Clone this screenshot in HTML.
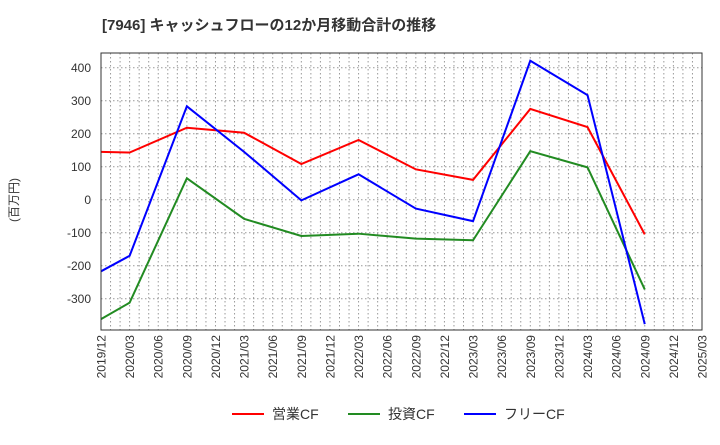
<!DOCTYPE html>
<html><head><meta charset="utf-8"><style>
body{margin:0;background:#fff;width:720px;height:440px;overflow:hidden;font-family:"Liberation Sans","Noto Sans CJK JP",sans-serif}
</style></head><body>
<svg id="chart" width="720" height="440" xmlns="http://www.w3.org/2000/svg" font-family="Liberation Sans, Noto Sans CJK JP, sans-serif">
<text x="102" y="30" font-size="15" font-weight="bold" fill="#333">[7946]  キャッシュフローの12か月移動合計の推移</text>
<text transform="translate(18,200) rotate(-90)" font-size="12" fill="#333" text-anchor="middle">(百万円)</text>
<g id="grid"></g><g id="axes"></g><g id="series"></g>
<rect x="101" y="53" width="601" height="277" fill="none" stroke="#333" stroke-width="1"/>
<g font-size="14" fill="#333">
<line x1="232" y1="414" x2="264" y2="414" stroke="#ff0000" stroke-width="2"/><text x="272" y="419">営業CF</text>
<line x1="348" y1="414" x2="380" y2="414" stroke="#228b22" stroke-width="2"/><text x="388" y="419">投資CF</text>
<line x1="464" y1="414" x2="496" y2="414" stroke="#0000ff" stroke-width="2"/><text x="504" y="419">フリーCF</text>
</g>
</svg>
<script>
const quarters=["2019/12","2020/03","2020/06","2020/09","2020/12","2021/03","2021/06","2021/09","2021/12","2022/03","2022/06","2022/09","2022/12","2023/03","2023/06","2023/09","2023/12","2024/03","2024/06","2024/09","2024/12","2025/03"];
const yTicks=[-300,-200,-100,0,100,200,300,400];
const pointQuarters=["2019/12","2020/03","2020/09","2021/03","2021/09","2022/03","2022/09","2023/03","2023/09","2024/03","2024/09"];
const operatingCF=[145,143,218,203,108,181,92,60,275,220,-105];
const investingCF=[-362,-312,65,-58,-110,-103,-118,-123,147,98,-272];
const freeCF=[-217,-170,283,145,-2,77,-27,-65,421,317,-377];
const NS="http://www.w3.org/2000/svg";
const L=101,R=702,T=53,B=330;
const x=q=>L+(R-L)*quarters.indexOf(q)/(quarters.length-1);
const xm=m=>L+(R-L)*m/((quarters.length-1)*3);
const y=v=>199.7-v*0.33;
function mk(tag,attrs,parent){const e=document.createElementNS(NS,tag);for(const k in attrs)e.setAttribute(k,attrs[k]);parent.appendChild(e);return e;}
const grid=document.getElementById('grid'),axes=document.getElementById('axes'),series=document.getElementById('series');
for(let m=1;m<(quarters.length-1)*3;m++){
 const l=mk('line',{x1:xm(m),x2:xm(m),y1:T,y2:B,stroke:'#999','stroke-dasharray':'1.5,2.5','stroke-width':1},grid);
 
 
}
yTicks.forEach(v=>{
 const l=mk('line',{x1:L,x2:R,y1:y(v),y2:y(v),stroke:'#999','stroke-dasharray':'1.5,2.5','stroke-width':1},grid);
 
 
 const t=mk('text',{x:L-10,y:y(v)+4.5,'font-size':12,fill:'#333','text-anchor':'end'},axes);
 t.textContent=v;
 
 
});
quarters.forEach(q=>{
 const t=mk('text',{transform:`translate(${x(q)+4.5},${B+5}) rotate(-90)`,'font-size':12,fill:'#333','text-anchor':'end'},axes);
 t.textContent=q;
 
 
});
[[operatingCF,'#ff0000','operating-cf-line'],[investingCF,'#228b22','investing-cf-line'],[freeCF,'#0000ff','free-cf-line']].forEach(([d,c,n])=>{
 const p=mk('polyline',{points:d.map((v,i)=>x(pointQuarters[i])+','+y(v)).join(' '),fill:'none',stroke:c,'stroke-width':2},series);
 
 
});
</script>
</body></html>
